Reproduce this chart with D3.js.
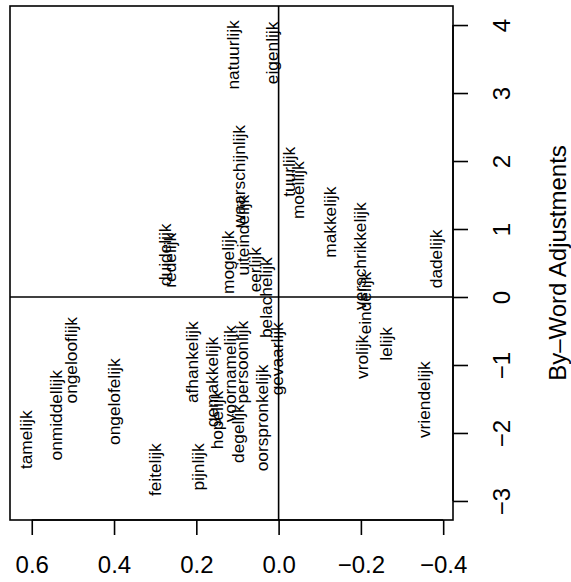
<!DOCTYPE html>
<html>
<head>
<meta charset="utf-8">
<script src="https://cdn.jsdelivr.net/npm/d3@7"></script>
<style>
  body { margin: 0; background: #fff; }
  text { font-family: "Liberation Sans", Arial, sans-serif; fill: #000; }
</style>
</head>
<body>
<div id="chart"></div>
<script>
// woorden en hun coördinaten
const words = ["natuurlijk", "eigenlijk", "waarschijnlijk", "uiteindelijk", "mogelijk", "eerlijk",
  "belachelijk", "gevaarlijk", "duidelijk", "redelijk", "tuurlijk", "moeilijk", "makkelijk",
  "verschrikkelijk", "vrolijk", "eindelijk", "lelijk", "vriendelijk", "dadelijk", "tamelijk",
  "onmiddellijk", "ongelooflijk", "ongelofelijk", "feitelijk", "pijnlijk", "afhankelijk",
  "hopelijk", "gemakkelijk", "voornamelijk", "degelijk", "persoonlijk", "oorspronkelijk"];
const dim1 = [0.110, 0.015, 0.095, 0.085, 0.122, 0.056,
  0.030, 0.003, 0.274, 0.262, -0.026, -0.048, -0.125,
  -0.198, -0.203, -0.212, -0.263, -0.355, -0.384, 0.613,
  0.541, 0.504, 0.400, 0.299, 0.195, 0.209,
  0.148, 0.160, 0.117, 0.098, 0.088, 0.040];
const adjust = [3.56, 3.59, 1.78, 0.91, 0.51, 0.40,
  -0.01, -0.91, 0.62, 0.54, 1.84, 1.57, 1.10,
  0.60, -0.88, -0.09, -0.69, -1.51, 0.56, -2.10,
  -1.74, -0.93, -1.54, -2.54, -2.50, -0.96,
  -1.81, -1.25, -1.13, -2.01, -0.96, -1.78];
const xTicks = [0.6, 0.4, 0.2, 0.0, -0.2, -0.4];
const yTicks = [-3, -2, -1, 0, 1, 2, 3, 4];
const yLim = [-3, 4];
const yLabel = "By\u2013Word Adjustments";

const W = 571, H = 582;
const pLeft = 10, pRight = 453, pTop = 6, pBottom = 520;

const svg = d3.select("#chart").append("svg")
  .attr("width", W).attr("height", H);

// R-stijl: 4% uitbreiding van het bereik
const xr = d3.extent(dim1), xpad = (xr[1] - xr[0]) * 0.04;
const yPad = (yLim[1] - yLim[0]) * 0.04;

const x = d3.scaleLinear().domain([xr[1] + xpad, xr[0] - xpad]).range([pLeft, pRight]);
const y = d3.scaleLinear().domain([yLim[0] - yPad, yLim[1] + yPad]).range([pBottom, pTop]);

const fmt = d => d === 0 ? "0.0" : d3.format(".1f")(d).replace("-", "\u2212").replace("\u2212", "\u2212");

// onderste as
const xAxis = svg.append("g")
  .attr("transform", `translate(0,${pBottom})`)
  .call(d3.axisBottom(x).tickValues(xTicks).tickSize(15).tickPadding(0).tickFormat(fmt));
xAxis.select(".domain").attr("d", `M${x(0.6)},0H${x(-0.4)}`).attr("stroke", "#000").attr("stroke-width", 1.6);
xAxis.selectAll(".tick line").attr("stroke", "#000").attr("stroke-width", 1.6);
xAxis.selectAll(".tick text").attr("y", 53).attr("dy", null)
  .style("font-size", "24px").style("font-family", "Liberation Sans, Arial, sans-serif");

// rechter as, labels gedraaid
const yAxis = svg.append("g")
  .attr("transform", `translate(${pRight},0)`)
  .call(d3.axisRight(y).tickValues(yTicks).tickSize(15).tickFormat(d => String(d).replace("-", "\u2212")));
yAxis.select(".domain").attr("d", `M0,${y(-3)}V${y(4)}`).attr("stroke", "#000").attr("stroke-width", 1.6);
yAxis.selectAll(".tick line").attr("stroke", "#000").attr("stroke-width", 1.6);
yAxis.selectAll(".tick text")
  .attr("x", null).attr("dy", null)
  .attr("transform", "translate(57,0) rotate(-90)")
  .attr("text-anchor", "middle")
  .style("font-size", "24px").style("font-family", "Liberation Sans, Arial, sans-serif");

svg.append("text")
  .attr("transform", `translate(566,${(pTop + pBottom) / 2}) rotate(-90)`)
  .attr("text-anchor", "middle")
  .style("font-size", "24px")
  .text(yLabel);

// referentielijnen
svg.append("line")
  .attr("x1", x(0)).attr("x2", x(0)).attr("y1", pTop).attr("y2", pBottom)
  .attr("stroke", "#000").attr("stroke-width", 1.6);
svg.append("line")
  .attr("x1", pLeft).attr("x2", pRight).attr("y1", y(0)).attr("y2", y(0))
  .attr("stroke", "#000").attr("stroke-width", 1.6);

// woorden
svg.append("g").selectAll("text")
  .data(words)
  .join("text")
  .attr("transform", (d, i) => `translate(${x(dim1[i])},${y(adjust[i])}) rotate(-90)`)
  .attr("text-anchor", "middle")
  .attr("dy", "0.32em")
  .style("font-size", "17.3px")
  .text(d => d);

// kader
svg.append("rect")
  .attr("x", pLeft).attr("y", pTop)
  .attr("width", pRight - pLeft).attr("height", pBottom - pTop)
  .attr("fill", "none").attr("stroke", "#000").attr("stroke-width", 1.6);
</script>
</body>
</html>
